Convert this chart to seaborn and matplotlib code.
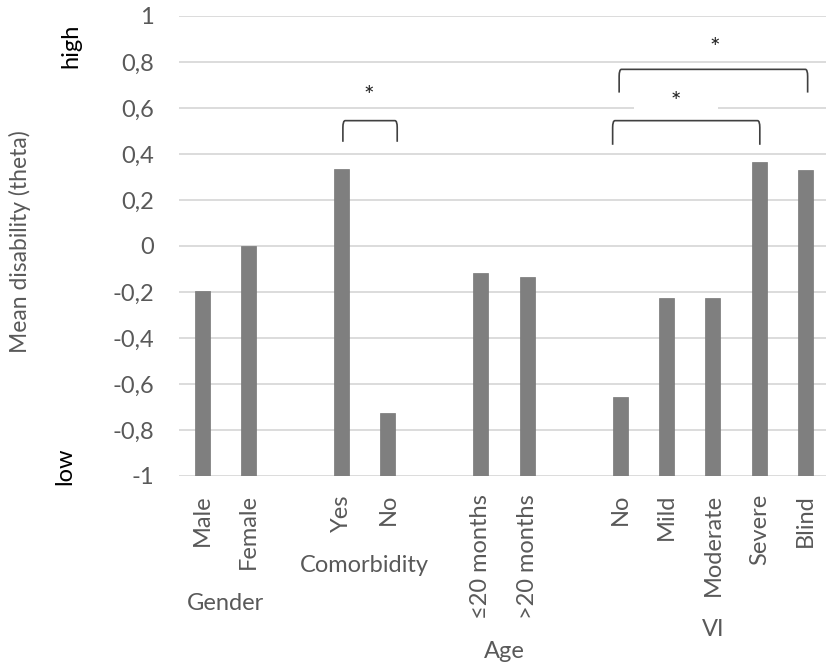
import matplotlib
matplotlib.use("Agg")
import matplotlib.pyplot as plt
import matplotlib.transforms as mtransforms
import seaborn as sns
import pandas as pd
from matplotlib.path import Path
from matplotlib.patches import PathPatch

# ---------------- data ----------------
categories = ["Male", "Female", "Yes", "No", "≤20 months", ">20 months",
              "No", "Mild", "Moderate", "Severe", "Blind"]
groups = ["Gender", "Gender", "Comorbidity", "Comorbidity", "Age", "Age",
          "VI", "VI", "VI", "VI", "VI"]
values = [-0.195, 0.0, 0.335, -0.725, -0.116, -0.133,
          -0.655, -0.225, -0.227, 0.366, 0.33]
group_names = ["Gender", "Comorbidity", "Age", "VI"]
ytick_values = [-1, -0.8, -0.6, -0.4, -0.2, 0, 0.2, 0.4, 0.6, 0.8, 1]
ytick_labels = ["-1", "-0,8", "-0,6", "-0,4", "-0,2", "0", "0,2", "0,4", "0,6", "0,8", "1"]
# significance brackets: (x_left, x_right, y_top, y_leg, star_x, star_y)
brackets = [(3.03, 4.20, 0.545, 0.453, 3.59, 0.675),
            (8.98, 13.04, 0.768, 0.667, 11.04, 0.884),
            (8.84, 12.01, 0.545, 0.440, 10.20, 0.652)]

baseline = -1.0

# ---------------- layout of slots (with gaps between groups) ----------------
keys, order, slot_labels = [], [], []
prev = None
gap_id = 0
for c, g in zip(categories, groups):
    if prev is not None and g != prev:
        gap_id += 1
        order.append(" " * gap_id)
        slot_labels.append("")
    k = f"{g}:{c}"
    keys.append(k)
    order.append(k)
    slot_labels.append(c)
    prev = g

df = pd.DataFrame({"key": keys, "value": values, "group": groups})
df["height"] = df["value"] - baseline

W, H = 826, 669
sns.set_theme(style="white")
plt.rcParams["font.family"] = ["Lato", "DejaVu Sans"]

fig = plt.figure(figsize=(W / 100, H / 100), dpi=100)
ax = fig.add_axes([179 / W, 1 - 476 / H, (829 - 179) / W, (476 - 16) / H])

for y in ytick_values:
    ax.axhline(y, color="#d9d9d9", lw=1.3, zorder=0)

sns.barplot(data=df, x="key", y="height", order=order, bottom=baseline,
            color="#7f7f7f", saturation=1, width=0.32, ax=ax, zorder=2,
            edgecolor="#777777", linewidth=0.5)

ax.set_ylim(-1, 1)
ax.set_xlim(-0.5, len(order) - 0.5)
ax.set_yticks(ytick_values)
ax.set_yticklabels(ytick_labels)
ax.set_xticks(range(len(order)))
ax.set_xticklabels(slot_labels, rotation=90)
ax.tick_params(axis="x", length=0, pad=13, labelsize=17, labelcolor="#595959")
ax.tick_params(axis="y", length=0, pad=18, labelsize=17, labelcolor="#595959")
for lab in ax.get_xticklabels():
    lab.set_family(["Lato", "DejaVu Sans"])
ax.set_xlabel("")
ax.set_ylabel("")
for s in ax.spines.values():
    s.set_visible(False)

# group labels (x in data units, y in figure pixels)
blend = mtransforms.blended_transform_factory(ax.transData, fig.transFigure)
grp_y = {"Gender": 603, "Comorbidity": 565, "Age": 651, "VI": 630}
for gname in group_names:
    pos = [order.index(k) for k, g in zip(keys, groups) if g == gname]
    xc = (min(pos) + max(pos)) / 2
    ax.text(xc, 1 - grp_y[gname] / H, gname, transform=blend,
            ha="center", va="center", fontsize=17, color="#595959")

# axis titles
fig.text(20 / W, 1 - 242 / H, "Mean disability (theta)", rotation=90,
         ha="center", va="center", fontsize=16.5, color="#595959")
fig.text(71 / W, 1 - 46 / H, "high", rotation=90, ha="center", va="center",
         fontsize=17, color="black")
fig.text(65 / W, 1 - 466 / H, "low", rotation=90, ha="center", va="center",
         fontsize=17, color="black")

# significance brackets
star_tr = mtransforms.offset_copy(ax.transData, fig=fig, x=0, y=-6, units="dots")
for i, (x0, x1, yt, yb, sx, sy) in enumerate(brackets):
    dx = 0.05
    dy = 0.03
    verts = [(x0, yb), (x0, yt - dy), (x0, yt), (x0 + dx, yt),
             (x1 - dx, yt), (x1, yt), (x1, yt - dy), (x1, yb)]
    codes = [Path.MOVETO, Path.LINETO, Path.CURVE3, Path.CURVE3,
             Path.LINETO, Path.CURVE3, Path.CURVE3, Path.LINETO]
    ax.add_patch(PathPatch(Path(verts, codes), fill=False, ec="#404040",
                           lw=1.2, zorder=5, clip_on=False))
    if i == 2:
        ax.text(sx, sy, "     *     ", ha="center", va="center", fontsize=18,
                color="#222222", zorder=4, transform=star_tr,
                bbox=dict(boxstyle="square,pad=0.2", fc="white", ec="none"))
    else:
        ax.text(sx, sy, "*", ha="center", va="center", fontsize=18,
                color="#222222", zorder=4, transform=star_tr)

fig.savefig("out.png", dpi=100)
